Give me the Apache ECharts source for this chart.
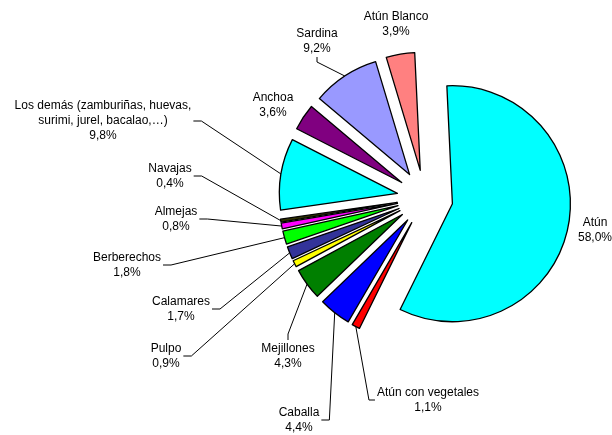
<!DOCTYPE html>
<html><head><meta charset="utf-8">
<script src="https://cdn.jsdelivr.net/npm/echarts@6/dist/echarts.min.js"></script>
<style>html,body{margin:0;padding:0;background:#fff}#c{width:612px;height:435px}</style>
</head><body><div id="c"></div>
<script>
const names = ['Atún','Atún con vegetales','Caballa','Mejillones','Pulpo','Calamares','Berberechos','Almejas','Navajas','Los demás (zamburiñas, huevas,\nsurimi, jurel, bacalao,…)','Anchoa','Sardina','Atún Blanco'];
const values = [58.0,1.1,4.4,4.3,0.9,1.7,1.8,0.8,0.4,9.8,3.6,9.2,3.9];
const colors = ['#00FFFF','#FF0000','#0000FF','#007F00','#FFFF00','#333399','#00FF00','#FF00FF','#333300','#00FFFF','#800080','#9999FF','#FF8080'];
// label block centres and leader-line side (layout only)
const labelPos = [[595,230,'n'],[428,400,'l'],[299,420,'r'],[288,356,'t'],[166,356,'r'],[181,309,'r'],[127,265,'r'],[176,219,'r'],[170,176,'r'],[103,121,'r'],[273,105,'n'],[317,41,'b'],[396,24,'n']];

const CENTER = [425,198], RADIUS = 118, EXPLODE = 28;

const chart = echarts.init(document.getElementById('c'), null, {renderer:'canvas'});
const common = {
  type:'pie', center:CENTER, radius:[0,RADIUS], startAngle:92.7, clockwise:true,
  avoidLabelOverlap:false, emphasis:{disabled:true}, silent:true
};
chart.setOption({
  animation:false,
  series:[
    Object.assign({}, common, {
      selectedMode:'multiple',
      selectedOffset:EXPLODE,
      itemStyle:{borderColor:'#000',borderWidth:1.3},
      label:{show:false}, labelLine:{show:false},
      data:names.map((n,i)=>({name:n,value:values[i],selected:true,itemStyle:{color:colors[i]}}))
    }),
    Object.assign({}, common, {
      itemStyle:{color:'rgba(0,0,0,0)',borderWidth:0},
      label:{
        show:true,
        fontFamily:'Liberation Sans, Arial, sans-serif',
        fontSize:12, lineHeight:15, color:'#000', align:'center',
        formatter:p=>p.name+'\n'+p.value.toFixed(1).replace('.',',')+'%'
      },
      labelLine:{show:true,lineStyle:{color:'#000',width:1}},
      labelLayout:function(p){
        const lp = labelPos[p.dataIndex];
        const cx = lp[0], cy = lp[1], side = lp[2];
        const res = {x:cx, y:cy, align:'center', verticalAlign:'middle'};
        const pts = p.labelLinePoints;
        if (side === 'n' || !pts) { res.labelLinePoints = [[-9999,-9999],[-9999,-9999]]; return res; }
        const p0 = pts[0];
        const dx = p0[0]-CENTER[0], dy = p0[1]-CENTER[1];
        const len = Math.sqrt(dx*dx+dy*dy) || 1;
        const start = [p0[0]+dx/len*EXPLODE, p0[1]+dy/len*EXPLODE];
        const w = p.labelRect.width, h = p.labelRect.height;
        let end, elbow;
        if (side === 'r') { end=[cx+w/2+2,cy]; elbow=[end[0]+8,cy]; }
        else if (side === 'l') { end=[cx-w/2-2,cy]; elbow=[end[0]-6,cy]; }
        else if (side === 't') { end=[cx,cy-h/2-1]; elbow=[cx,end[1]-6]; }
        else { end=[cx,cy+h/2+1]; elbow=[cx,end[1]+5]; }
        res.labelLinePoints = [start, elbow, end];
        return res;
      },
      data:names.map((n,i)=>({name:n,value:values[i]}))
    })
  ]
});
</script></body></html>
